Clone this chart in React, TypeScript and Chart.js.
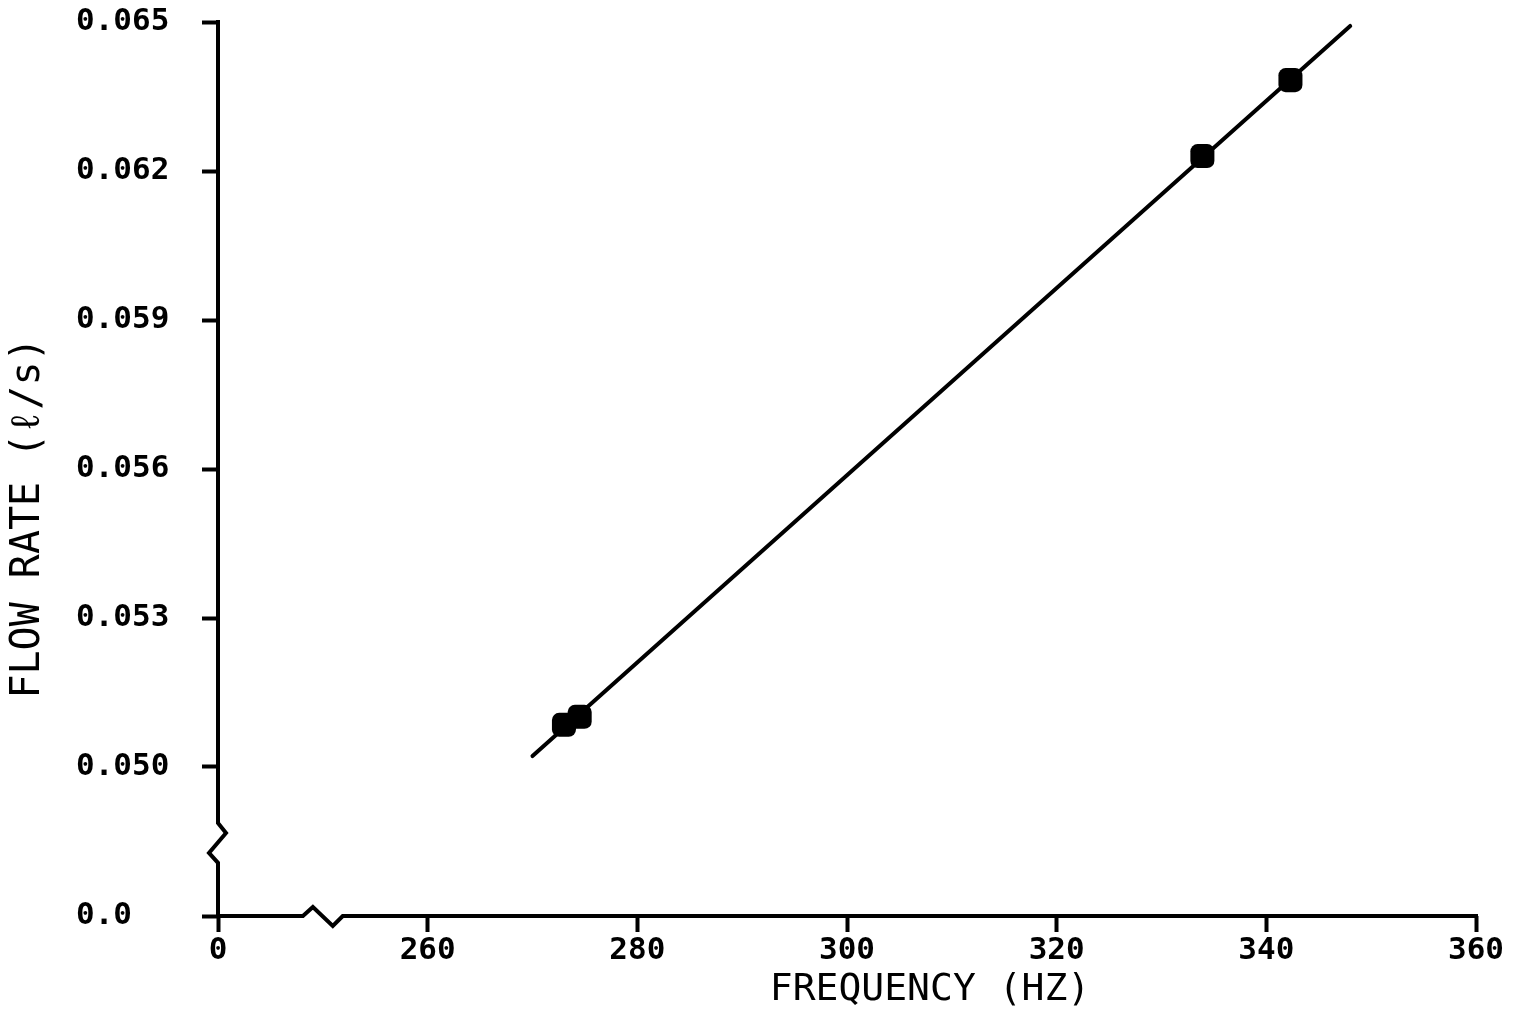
import React, { useEffect, useRef } from "react";
import { Chart, registerables } from "chart.js";

Chart.register(...registerables);

// ---- data ----
const X_TICKS = [240, 260, 280, 300, 320, 340, 360];
const X_TICK_LABELS = ["0", "260", "280", "300", "320", "340", "360"];
const Y_TICKS = [0.047, 0.05, 0.053, 0.056, 0.059, 0.062, 0.065];
const Y_TICK_LABELS = ["0.0", "0.050", "0.053", "0.056", "0.059", "0.062", "0.065"];

const FIT_X = [270.0, 348.0];
const FIT_Y = [0.05022, 0.06492];

const POINT_X = [273.0, 274.5, 333.9, 342.3];
const POINT_Y = [0.05085, 0.05101, 0.0623, 0.06383];

// axis break locations (data units)
const X_BREAK = [248.1, 251.9];
const Y_BREAK = [0.04887, 0.04807];

const X_TITLE = "FREQUENCY (HZ)";
const Y_TITLE = "FLOW RATE (ℓ/s)";

const FONT = "'DejaVu Sans Mono', 'Liberation Mono', monospace";

const axesPlugin = {
  id: "brokenAxes",
  afterDraw(chart: any) {
    const { ctx, chartArea } = chart;
    const xs = chart.scales.x;
    const ys = chart.scales.y;
    const L = chartArea.left;
    const B = chartArea.bottom;
    ctx.save();
    ctx.strokeStyle = "#000";
    ctx.lineWidth = 4;
    ctx.lineJoin = "miter";
    ctx.lineCap = "butt";

    // y axis with break
    const yt = ys.getPixelForValue(Y_BREAK[0]);
    const yb = ys.getPixelForValue(Y_BREAK[1]);
    const h = yb - yt;
    ctx.beginPath();
    ctx.moveTo(L, chartArea.top - 2);
    ctx.lineTo(L, yt);
    ctx.lineTo(L + 8, yt + h * 0.25);
    ctx.lineTo(L - 9, yt + h * 0.75);
    ctx.lineTo(L, yb);
    ctx.lineTo(L, B + 2);
    ctx.stroke();

    // x axis with break
    const xl = xs.getPixelForValue(X_BREAK[0]);
    const xr = xs.getPixelForValue(X_BREAK[1]);
    const w = xr - xl;
    ctx.beginPath();
    ctx.moveTo(L - 2, B);
    ctx.lineTo(xl, B);
    ctx.lineTo(xl + w * 0.25, B - 9);
    ctx.lineTo(xl + w * 0.75, B + 10);
    ctx.lineTo(xr, B);
    ctx.lineTo(chartArea.right + 2, B);
    ctx.stroke();

    // axis titles
    ctx.fillStyle = "#000";
    ctx.font = `normal 38px ${FONT}`;
    ctx.textAlign = "center";
    ctx.textBaseline = "middle";
    ctx.fillText(X_TITLE, 930, 990);

    ctx.font = `normal 40px ${FONT}`;
    ctx.translate(29, 518);
    ctx.rotate(-Math.PI / 2);
    ctx.fillText(Y_TITLE, 0, 0);
    ctx.restore();
  },
};

export default function App() {
  const ref = useRef<HTMLCanvasElement | null>(null);

  useEffect(() => {
    if (!ref.current) return;
    const tickFont = { family: FONT, size: 31, weight: "bold" as const };
    const chart = new Chart(ref.current, {
      type: "line",
      data: {
        datasets: [
          {
            type: "line",
            data: FIT_X.map((x, i) => ({ x, y: FIT_Y[i] })),
            borderColor: "#000",
            borderWidth: 4,
            borderCapStyle: "round",
            pointRadius: 0,
            fill: false,
          },
          {
            type: "scatter",
            data: POINT_X.map((x, i) => ({ x, y: POINT_Y[i] })),
            pointStyle: "rectRounded",
            pointRadius: 14,
            backgroundColor: "#000",
            borderColor: "#000",
            borderWidth: 0,
            showLine: false,
          },
        ],
      },
      options: {
        responsive: false,
        animation: false,
        devicePixelRatio: 1,
        layout: { padding: { left: 76, top: 22, right: 39, bottom: 0 } },
        plugins: { legend: { display: false }, tooltip: { enabled: false } },
        scales: {
          x: {
            type: "linear",
            min: 240,
            max: 360,
            border: { display: false },
            grid: {
              drawOnChartArea: false,
              drawTicks: true,
              tickLength: 16,
              tickWidth: 4,
              tickColor: "#000",
            },
            afterBuildTicks: (s: any) => {
              s.ticks = X_TICKS.map((v) => ({ value: v }));
            },
            afterFit: (s: any) => {
              s.height = 95;
            },
            ticks: {
              color: "#000",
              font: tickFont,
              padding: 0,
              maxRotation: 0,
              autoSkip: false,
              callback: (v: any) => {
                const i = X_TICKS.findIndex((t) => Math.abs(t - Number(v)) < 1e-6);
                return i >= 0 ? X_TICK_LABELS[i] : "";
              },
            },
          },
          y: {
            type: "linear",
            min: 0.047,
            max: 0.065,
            border: { display: false },
            grid: {
              drawOnChartArea: false,
              drawTicks: true,
              tickLength: 16,
              tickWidth: 4,
              tickColor: "#000",
            },
            afterBuildTicks: (s: any) => {
              s.ticks = Y_TICKS.map((v) => ({ value: v }));
            },
            afterFit: (s: any) => {
              s.width = 142;
            },
            ticks: {
              color: "#000",
              font: tickFont,
              crossAlign: "far",
              autoSkip: false,
              callback: (v: any) => {
                const i = Y_TICKS.findIndex((t) => Math.abs(t - Number(v)) < 1e-7);
                return i >= 0 ? Y_TICK_LABELS[i] : "";
              },
            },
          },
        },
      },
      plugins: [axesPlugin],
    } as any);
    return () => chart.destroy();
  }, []);

  return (
    <div style={{ position: "fixed", left: 0, top: 0, width: 1515, height: 1011, background: "#fff" }}>
      <canvas ref={ref} width={1515} height={1011} style={{ display: "block" }} />
    </div>
  );
}
